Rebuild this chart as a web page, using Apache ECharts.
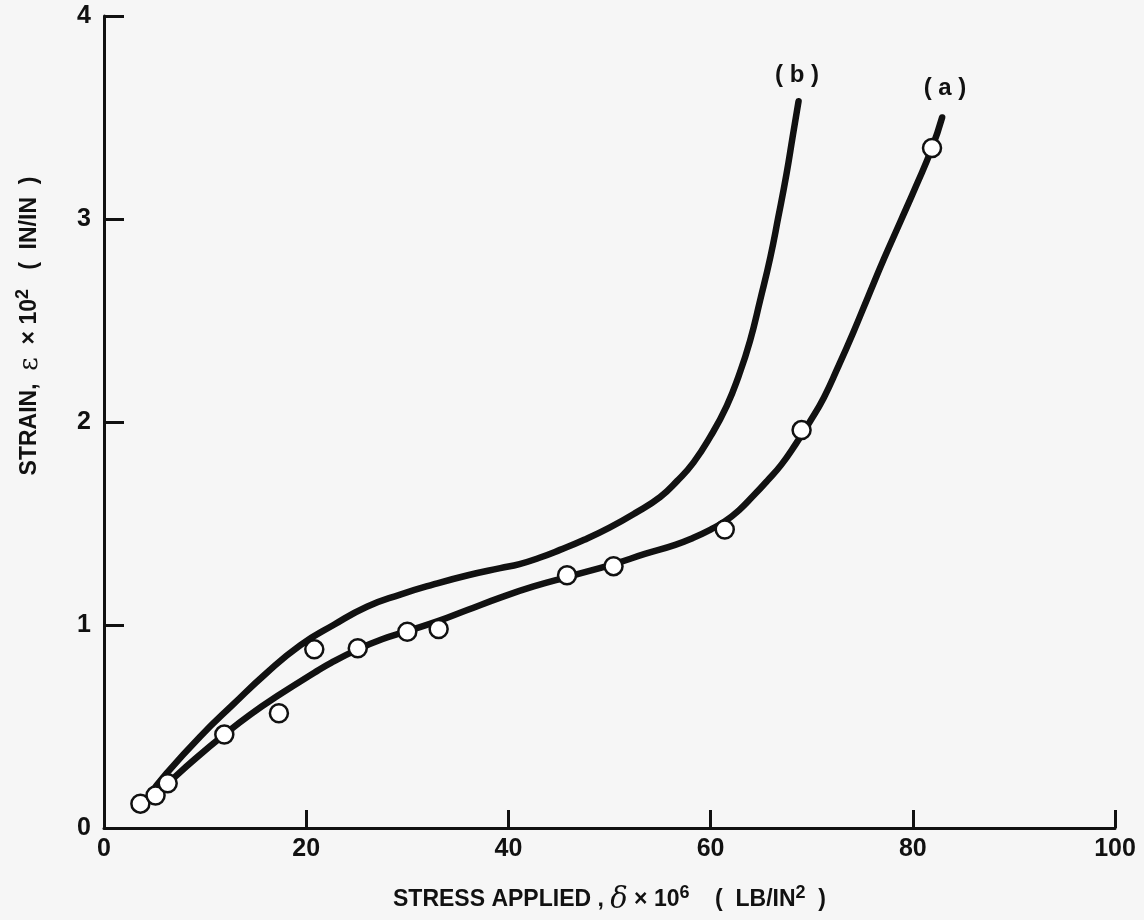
<!DOCTYPE html>
<html>
<head>
<meta charset="utf-8">
<script src="https://cdn.jsdelivr.net/npm/echarts@6/dist/echarts.min.js"></script>
<style>
  html, body { margin: 0; padding: 0; background: #f6f6f6; }
  #chart { width: 1144px; height: 920px; }
</style>
</head>
<body>
<div id="chart"></div>
<script>
// measured points (curve a)
var pointsA = [
    [3.6, 0.12], [5.1, 0.16], [6.3, 0.22], [11.9, 0.46], [17.3, 0.565],
    [20.8, 0.88], [25.1, 0.885], [30.0, 0.967], [33.1, 0.98], [45.8, 1.245],
    [50.4, 1.29], [61.4, 1.47], [69.0, 1.96], [81.9, 3.35]
];

// fitted curve (a)
var curveA = [
    [4.5, 0.14], [6.3, 0.22], [9, 0.34], [11.9, 0.46], [14.5, 0.56], [17.3, 0.655],
    [20.8, 0.765], [22.5, 0.815], [25.1, 0.88], [27.5, 0.93], [30, 0.97], [33.1, 1.02],
    [36, 1.075], [39.2, 1.135], [42.5, 1.19], [46.1, 1.24], [50.4, 1.3], [53.5, 1.35],
    [56.5, 1.395], [58.3, 1.43], [60, 1.47], [61.4, 1.51], [62.8, 1.565], [64.2, 1.635],
    [65.6, 1.71], [67, 1.79], [68.4, 1.89], [69.8, 2.0], [71.2, 2.12], [72.6, 2.27],
    [74.1, 2.44], [75.6, 2.62], [77.2, 2.81], [78.8, 2.99], [80.3, 3.16], [81.9, 3.35],
    [82.9, 3.5]
];

// fitted curve (b)
var curveB = [
    [4.3, 0.15], [6.2, 0.27], [9.5, 0.45], [12.8, 0.61], [16, 0.76], [19.4, 0.9],
    [22.7, 1.0], [26, 1.09], [29.3, 1.15], [32.6, 1.2], [36, 1.245], [39.2, 1.28],
    [41.1, 1.3], [43, 1.33], [45.1, 1.37], [47.5, 1.42], [50, 1.48], [52.5, 1.55],
    [55, 1.63], [56.7, 1.71], [58.3, 1.8], [60, 1.93], [61.6, 2.08], [62.8, 2.23],
    [63.9, 2.4], [64.9, 2.6], [65.9, 2.81], [66.7, 3.01], [67.5, 3.22], [68.1, 3.4],
    [68.7, 3.58]
];

var font = 'Liberation Sans';
var ink = '#111';

var chart = echarts.init(document.getElementById('chart'));

var option = {
    backgroundColor: '#f6f6f6',
    animation: false,
    grid: {
        left: 104,
        right: 29,
        top: 16,
        bottom: 92
    },
    xAxis: {
        type: 'value',
        min: 0,
        max: 100,
        interval: 20,
        splitLine: { show: false },
        axisLine: { lineStyle: { color: ink, width: 3 } },
        axisTick: { inside: true, length: 18, lineStyle: { color: ink, width: 3 } },
        axisLabel: {
            color: ink, fontSize: 25, fontWeight: 'bold', fontFamily: font, margin: 9
        },
        name: '{t|STRESS APPLIED , }{g|δ}{t| × 10}{s|6}{t|    (  LB/IN}{s|2}{t|  )}',
        nameLocation: 'middle',
        nameGap: 56,
        nameTextStyle: {
            rich: {
                t: { fontSize: 23, fontWeight: 'bold', fontFamily: font, color: ink },
                g: { fontSize: 29, fontStyle: 'italic', fontFamily: 'DejaVu Serif', color: ink },
                s: { fontSize: 18, fontWeight: 'bold', fontFamily: font, color: ink, verticalAlign: 'top', padding: [0, 0, 14, 0] }
            }
        }
    },
    yAxis: {
        type: 'value',
        min: 0,
        max: 4,
        interval: 1,
        splitLine: { show: false },
        axisLine: { lineStyle: { color: ink, width: 3 } },
        axisTick: { inside: true, length: 20, lineStyle: { color: ink, width: 3 } },
        axisLabel: {
            color: ink, fontSize: 25, fontWeight: 'bold', fontFamily: font, margin: 13
        }
    },
    graphic: [
        {
            type: 'text',
            x: 30,
            y: 326,
            rotation: Math.PI / 2,
            style: {
                text: '{t|STRAIN,  }{g|ε}{t|  × 10}{s|2}{t|   (  IN/IN  )}',
                align: 'center',
                verticalAlign: 'middle',
                rich: {
                    t: { fontSize: 23, fontWeight: 'bold', fontFamily: font, fill: ink },
                    g: { fontSize: 26, fontFamily: 'DejaVu Serif', fill: ink },
                    s: { fontSize: 18, fontWeight: 'bold', fontFamily: font, fill: ink, verticalAlign: 'top', padding: [0, 0, 14, 0] }
                }
            }
        },
        {
            type: 'text',
            x: 797,
            y: 75,
            style: {
                text: '( b )', align: 'center', verticalAlign: 'middle',
                fontSize: 24, fontWeight: 'bold', fontFamily: font, fill: ink
            }
        },
        {
            type: 'text',
            x: 945,
            y: 88,
            style: {
                text: '( a )', align: 'center', verticalAlign: 'middle',
                fontSize: 24, fontWeight: 'bold', fontFamily: font, fill: ink
            }
        }
    ],
    series: [
        {
            name: 'b',
            type: 'line',
            data: curveB,
            smooth: 0.5,
            showSymbol: false,
            lineStyle: { color: ink, width: 6.5, cap: 'round' },
            z: 2
        },
        {
            name: 'a',
            type: 'line',
            data: curveA,
            smooth: 0.5,
            showSymbol: false,
            lineStyle: { color: ink, width: 6.5, cap: 'round' },
            z: 2
        },
        {
            name: 'measured',
            type: 'scatter',
            data: pointsA,
            symbol: 'circle',
            symbolSize: 18,
            itemStyle: { color: '#fff', borderColor: ink, borderWidth: 2.5, opacity: 1 },
            z: 3
        }
    ]
};

chart.setOption(option);
</script>
</body>
</html>
